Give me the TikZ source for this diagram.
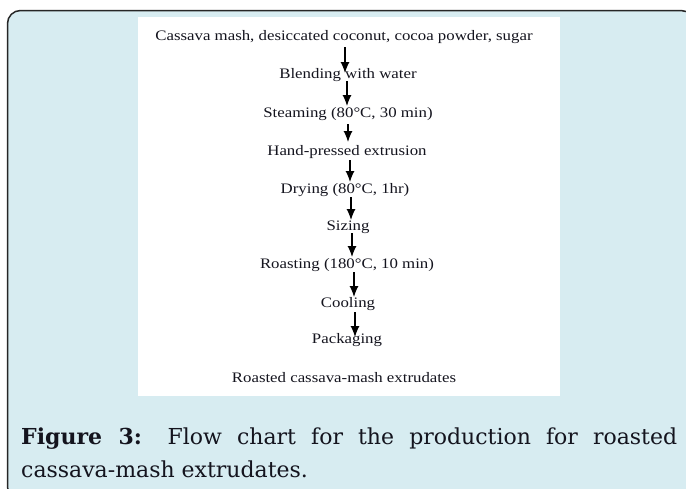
\documentclass[tikz,border=0pt]{standalone}
\usepackage{fontspec}
\usetikzlibrary{arrows.meta,calc}
\newfontfamily\flowfont[FakeStretch=1.16]{Liberation Serif}
\newfontfamily\capfont{DejaVu Serif}
\definecolor{panel}{RGB}{215,236,241}
\definecolor{ink}{RGB}{20,20,30}
\begin{document}
\begin{tikzpicture}[x=1pt,y=-1pt,
  stp/.style={font=\flowfont\fontsize{14.5}{16}\selectfont, inner sep=0pt, text=ink, anchor=base},
  arr/.style={line width=1.2pt, draw=black, -{Latex[length=11pt,width=9pt]}}]
\useasboundingbox (0,0) rectangle (686,488);
\clip (0,0) rectangle (686,488);
\fill[white] (0,0) rectangle (686,488);
\draw[line width=1.5pt, draw=black!85, fill=panel, rounded corners=13pt] (7.5,10.5) rectangle (694,500);
\fill[white] (138,17) rectangle (560,396);
\node[stp] (n1) at (344,40) {Cassava mash, desiccated coconut, cocoa powder, sugar};
\node[stp] (n2) at (348,78) {Blending with water};
\node[stp] (n3) at (348,117) {Steaming (80°C, 30 min)};
\node[stp] (n4) at (347,155) {Hand-pressed extrusion};
\node[stp] (n5) at (345,193) {Drying (80°C, 1hr)};
\node[stp] (n6) at (348,230) {Sizing};
\node[stp] (n7) at (347,268) {Roasting (180°C, 10 min)};
\node[stp] (n8) at (348,307) {Cooling};
\node[stp] (n9) at (347,343) {Packaging};
\node[stp] (n10) at (344,382) {Roasted cassava-mash extrudates};
\draw[arr] ($(n1.base)+(1,7)$) -- ($(n2.base)+(-3,-5)$);
\draw[arr] ($(n2.base)+(-1,3)$) -- ($(n3.base)+(-1,-11)$);
\draw[arr] ($(n3.base)+(0,7)$) -- ($(n4.base)+(1,-13)$);
\draw[arr] ($(n4.base)+(3,5)$) -- ($(n5.base)+(5,-11)$);
\draw[arr] ($(n5.base)+(6,4)$) -- ($(n6.base)+(3,-10)$);
\draw[arr] ($(n6.base)+(4,3)$) -- ($(n7.base)+(5,-11)$);
\draw[arr] ($(n7.base)+(7,4)$) -- ($(n8.base)+(6,-10)$);
\draw[arr] ($(n8.base)+(7,5)$) -- ($(n9.base)+(8,-6)$);
\node[anchor=base west, text width=656pt, align=justify, inner sep=0pt, text=ink,
  font=\capfont\fontsize{22}{33}\selectfont] (cap) at (21,444)
  {\textbf{Figure 3:} Flow chart for the production for roasted cassava-mash extrudates.};
\end{tikzpicture}
\end{document}
